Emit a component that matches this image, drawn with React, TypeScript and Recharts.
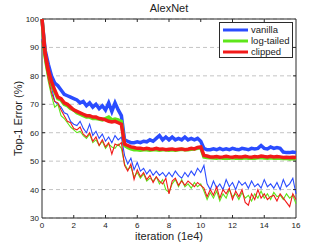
import { LineChart, Line, XAxis, YAxis, CartesianGrid, ReferenceArea, Legend } from 'recharts'

// sample points, every 0.2 (x1e4 iterations)
const iteration = Array.from({ length: 81 }, (_, i) => Math.round(i * 2) / 10)

// thick lines (test error)
const vanillaTest = [
  100, 89, 84, 80, 77.5, 76.5, 75, 73.5, 73, 72.5, 72, 71.5, 70.5, 71, 69.5, 70.5, 69, 70, 68.5, 69.5,
  68, 70.5, 67.5, 70.5, 68, 66, 57.5, 57, 56.5, 56.5, 56.8, 56.5, 57, 56.8, 57.5, 57, 58, 59, 57.5, 58.5,
  57.5, 58.5, 57.5, 58, 57.5, 58.5, 57.5, 58, 57.5, 58, 57, 54.5, 54, 54, 54.3, 54, 54.5, 54, 54.3, 54,
  54.5, 54.2, 54, 54.5, 54.3, 54, 54.5, 54.3, 54.5, 55.5, 54.5, 54.3, 55, 54.5, 54.8, 54.5, 53.2, 53, 53, 53.2,
  53,
]
const logTailedTest = [
  100, 87, 81, 77, 74.5, 72, 71.5, 70, 69.5, 68.5, 68, 67, 66.5, 66, 65.5, 65.5, 65, 65, 64.8, 64.5,
  65, 65.5, 64.5, 64.8, 64.5, 64, 55.5, 54.8, 54.3, 54, 54, 53.8, 54, 54, 53.8, 54, 54, 53.8, 54, 54,
  53.8, 54, 53.8, 54, 54.2, 54, 54, 54.2, 54.3, 54.5, 54.8, 51.5, 51.3, 51.2, 51.1, 51, 51.2, 51, 51.1, 51,
  51.2, 51, 51.1, 51, 51.2, 51, 51.1, 51, 51.2, 51.3, 51.1, 51, 51.2, 51, 51.1, 51, 50.9, 51, 50.8, 50.9,
  50.8,
]
const clippedTest = [
  100, 88, 82, 78, 75, 72.5, 72, 70.5, 70, 69, 68, 67.5, 67, 66.5, 66, 66, 65.5, 65.5, 65, 64.8,
  64.5, 64, 63.8, 64, 63.5, 63, 56, 55.5, 55, 54.8, 54.5, 54.5, 54.3, 54.5, 54.3, 54.2, 54.5, 54.2, 54.3, 54,
  54.2, 54.3, 54, 54.2, 54.3, 54, 54.2, 54.5, 54.3, 54.8, 55, 52, 51.8, 51.5, 51.5, 51.6, 51.4, 51.5, 51.7, 51.5,
  51.4, 51.6, 51.5, 51.5, 51.7, 51.5, 51.4, 51.6, 51.5, 51.8, 51.6, 51.5, 51.7, 51.5, 51.6, 51.5, 51.3, 51.4, 51.3, 51.4,
  51.3,
]

// thin lines (train error)
const vanillaTrain = [
  93, 86, 80, 76, 71, 70, 69, 67, 66.5, 64, 63, 62.5, 64, 61.5, 60, 63, 59, 60.5, 58, 59.5,
  57, 58.5, 56.5, 59, 57.5, 58.5, 52, 49, 51, 47, 49.5, 46.5, 47.5, 45.5, 47, 45, 46.5, 45, 46, 44.5,
  46, 44.5, 46.5, 45, 44, 46, 44.5, 46.5, 45, 47.5, 46, 48.5, 42, 40, 43, 40.5, 42, 40, 43.5, 41,
  42.5, 40, 43, 41.5, 42.5, 40.5, 43, 41, 42, 40.5, 43.5, 41, 42, 40.5, 42.5, 40, 43.5, 41, 42, 44,
  38.5,
]
const logTailedTrain = [
  92, 84, 78, 73, 69, 70, 66, 65, 63.5, 62, 61, 60, 60.5, 59, 58, 59.5, 56.5, 57.5, 55.5, 57,
  54.5, 56, 55, 54.5, 56, 54.5, 49, 47, 48, 44.5, 46, 44, 45.5, 43, 44, 43, 44.5, 42, 43.5, 40,
  39, 42, 43.5, 41, 43.5, 41, 42, 40.5, 42.5, 41, 42, 39.5, 36.5, 39, 37, 39.5, 36, 38.5, 37, 40,
  37.5, 38.5, 36.5, 39, 37, 38, 36, 38.5, 37, 39.5, 37, 38.5, 36.5, 39, 37.5, 38, 36.5, 38.5, 37, 38,
  35,
]
const clippedTrain = [
  92.5, 85, 79, 74, 71, 70.5, 68, 66, 64, 63.5, 61.5, 61, 62, 59.5, 58.5, 60, 57, 58.5, 55.5, 57.5,
  55, 56.5, 52.5, 56, 55.5, 56.5, 48.5, 46.5, 49, 43.5, 47, 44.5, 46, 43.5, 45, 42.5, 44.5, 43, 42, 44,
  38.5, 43, 44, 41.5, 43, 41.5, 43, 42, 41, 42.5, 41.5, 40.5, 37.5, 40, 38, 41, 37, 40, 38.5, 40.5,
  36.5, 39.5, 37.5, 40, 35.5, 34.5, 38.5, 36.5, 40, 37, 38.5, 36.5, 37.5, 38, 36, 38.5, 37, 35.5, 34, 38.5,
  36.5,
]

const xTicks = [0, 2, 4, 6, 8, 10, 12, 14, 16]
const yTicks = [30, 40, 50, 60, 70, 80, 90, 100]

const seriesNames = ['vanilla', 'log-tailed', 'clipped']

const data = iteration.map((x, i) => ({
  x,
  vanillaTest: vanillaTest[i],
  logTailedTest: logTailedTest[i],
  clippedTest: clippedTest[i],
  vanillaTrain: vanillaTrain[i],
  logTailedTrain: logTailedTrain[i],
  clippedTrain: clippedTrain[i],
}))

const BLUE = '#2a4cff'
const GREEN = '#5ee61a'
const RED = '#f21a1a'
const AXIS = '#2b2b2b'
const FONT = '"Liberation Sans", Arial, sans-serif'

const W = 327
const H = 245
const LEFT = 42
const RIGHT = 296
const TOP = 19
const BOTTOM = 218

function XTick({ x, payload }: any) {
  const edge = payload.value === 0 || payload.value === 16
  return (
    <g>
      {!edge && <line x1={x} x2={x} y1={BOTTOM} y2={BOTTOM - 3} stroke={AXIS} />}
      {!edge && <line x1={x} x2={x} y1={TOP} y2={TOP + 3} stroke={AXIS} />}
      <text x={x} y={BOTTOM + 10} textAnchor="middle" fontSize={8} fill="#222" fontFamily={FONT}>
        {payload.value}
      </text>
    </g>
  )
}

function YTick({ y, payload }: any) {
  const edge = payload.value === 30 || payload.value === 100
  return (
    <g>
      {!edge && <line x1={LEFT} x2={LEFT + 3} y1={y} y2={y} stroke={AXIS} />}
      {!edge && <line x1={RIGHT} x2={RIGHT - 3} y1={y} y2={y} stroke={AXIS} />}
      <text x={LEFT - 3} y={y + 3} textAnchor="end" fontSize={8} fill="#222" fontFamily={FONT}>
        {payload.value}
      </text>
    </g>
  )
}

function LegendBox() {
  const colors = [BLUE, GREEN, RED]
  return (
    <div
      style={{
        border: `1px solid ${AXIS}`,
        background: '#fff',
        width: 74,
        height: 36,
        boxSizing: 'border-box',
        padding: '1px 0 0 3px',
        fontFamily: FONT,
        fontSize: 9.5,
        color: '#222',
      }}
    >
      {seriesNames.map((name, i) => (
        <div key={name} style={{ display: 'flex', alignItems: 'center', height: 11 }}>
          <svg width={26} height={6} style={{ marginRight: 2 }}>
            <line x1={0} x2={25} y1={3} y2={3} stroke={colors[i]} strokeWidth={3} />
          </svg>
          <span style={{ lineHeight: '11px' }}>{name}</span>
        </div>
      ))}
    </div>
  )
}

export default function App() {
  return (
    <div style={{ position: 'absolute', left: 0, top: 0, width: W, height: H, background: '#fff' }}>
      <LineChart
        width={W}
        height={H}
        data={data}
        margin={{ top: TOP, right: W - RIGHT, bottom: 0, left: 0 }}
      >
        <CartesianGrid vertical={false} stroke="#c4c4c4" strokeDasharray="4 3" />
        <XAxis
          dataKey="x"
          type="number"
          height={H - BOTTOM}
          domain={[0, 16]}
          ticks={xTicks}
          axisLine={false}
          tickLine={false}
          tick={<XTick />}
          interval={0}
        />
        <YAxis
          width={LEFT}
          type="number"
          domain={[30, 100]}
          ticks={yTicks}
          axisLine={false}
          tickLine={false}
          tick={<YTick />}
          interval={0}
        />
        <Line dataKey="vanillaTest" stroke={BLUE} strokeWidth={3.5} dot={false} isAnimationActive={false} />
        <Line dataKey="vanillaTrain" stroke={BLUE} strokeWidth={1.1} dot={false} isAnimationActive={false} />
        <Line dataKey="logTailedTest" stroke={GREEN} strokeWidth={3.5} dot={false} isAnimationActive={false} />
        <Line dataKey="logTailedTrain" stroke={GREEN} strokeWidth={1.1} dot={false} isAnimationActive={false} />
        <Line dataKey="clippedTest" stroke={RED} strokeWidth={3.5} dot={false} isAnimationActive={false} />
        <Line dataKey="clippedTrain" stroke={RED} strokeWidth={1.1} dot={false} isAnimationActive={false} />
        <ReferenceArea x1={0} x2={16} y1={30} y2={100} fill="none" stroke={AXIS} strokeWidth={1} ifOverflow="visible" />
        <Legend
          layout="vertical"
          align="center"
          verticalAlign="middle"
          wrapperStyle={{ top: 22, left: 219, width: 74 }}
          content={() => <LegendBox />}
        />
        <text x={(LEFT + RIGHT) / 2} y={12} textAnchor="middle" fontSize={11} fill="#222" fontFamily={FONT}>
          AlexNet
        </text>
        <text x={(LEFT + RIGHT) / 2} y={240} textAnchor="middle" fontSize={11} fill="#222" fontFamily={FONT}>
          iteration (1e4)
        </text>
        <text
          x={18}
          y={(TOP + BOTTOM) / 2}
          textAnchor="middle"
          fontSize={11}
          fill="#222"
          fontFamily={FONT}
          transform={`rotate(-90 18 ${(TOP + BOTTOM) / 2})`}
          dominantBaseline="central"
        >
          Top-1 Error (%)
        </text>
      </LineChart>
    </div>
  )
}
